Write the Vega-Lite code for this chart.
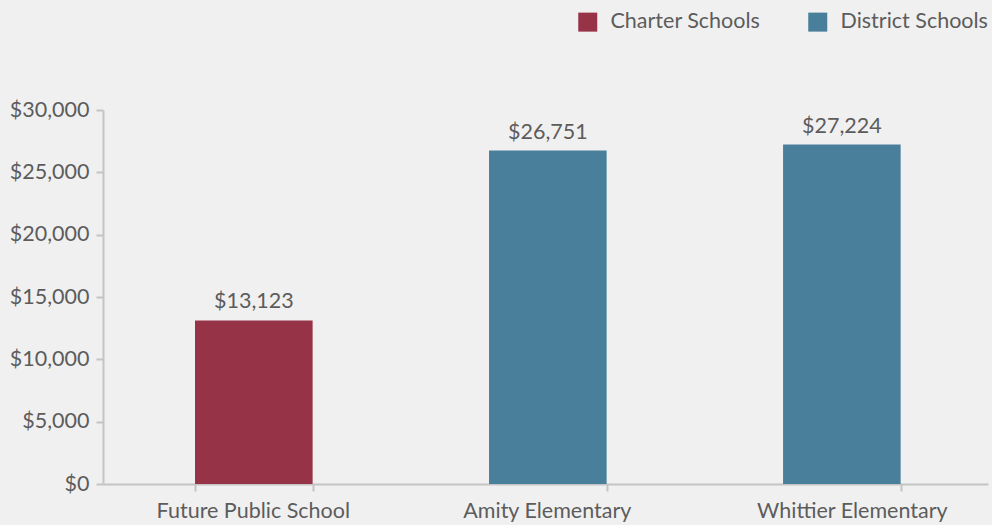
{
  "$schema": "https://vega.github.io/schema/vega-lite/v6.json",
  "autosize": {"type": "none"},
  "padding": {"left": 103, "top": 110, "right": 4, "bottom": 41},
  "width": 885,
  "height": 374,
  "background": "#f0f0f0",
  "config": {
    "view": {"stroke": null},
    "font": "Lato",
    "axis": {"labelFont": "Lato", "labelFontSize": 21.5, "labelColor": "#5c5c5c", "domainColor": "#c4c4c4", "tickColor": "#c4c4c4", "domainWidth": 2, "tickWidth": 2, "grid": false, "title": null, "labelLimit": 0},
    "legend": {"labelFont": "Lato", "labelFontSize": 21.5, "labelColor": "#5c5c5c", "labelLimit": 0}
  },
  "data": {
    "values": [
      {"school": "Future Public School", "type": "Charter Schools", "value": 13123},
      {"school": "Amity Elementary", "type": "District Schools", "value": 26751},
      {"school": "Whittier Elementary", "type": "District Schools", "value": 27224}
    ]
  },
  "encoding": {
    "x": {
      "field": "school", "type": "nominal", "sort": null,
      "scale": {"paddingInner": 0.6, "paddingOuter": 0.305, "align": 0.513},
      "axis": {
        "labelAngle": 0, "tickBand": "extent", "tickSize": 7, "labelPadding": 9,
        "labelOffset": {"condition": {"test": "datum.value === 'Whittier Elementary'", "value": 10}, "value": -1}
      }
    },
    "y": {
      "field": "value", "type": "quantitative",
      "scale": {"domain": [0, 30000]},
      "axis": {"values": [0, 5000, 10000, 15000, 20000, 25000, 30000], "format": "$,.0f", "tickSize": 7, "labelPadding": 7}
    }
  },
  "layer": [
    {
      "mark": {"type": "bar"},
      "encoding": {
        "color": {
          "field": "type", "type": "nominal",
          "scale": {"domain": ["Charter Schools", "District Schools"], "range": ["#963346", "#4a7f9b"]},
          "legend": {"title": null, "orient": "none", "direction": "horizontal", "legendX": 474, "legendY": -99, "symbolType": "square", "symbolSize": 361, "symbolStrokeWidth": 0, "symbolOpacity": 1, "columnPadding": 46, "labelOffset": 12}
        }
      }
    },
    {
      "mark": {"type": "text", "baseline": "bottom", "dy": -7, "fontSize": 21.5, "color": "#5c5c5c", "font": "Lato"},
      "encoding": {"text": {"field": "value", "type": "quantitative", "format": "$,.0f"}}
    }
  ]
}
